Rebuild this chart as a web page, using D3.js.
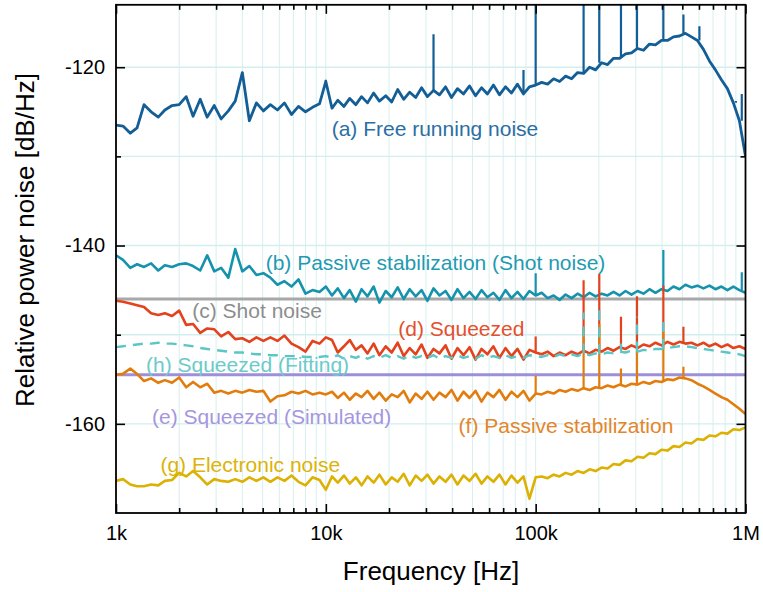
<!DOCTYPE html>
<html>
<head>
<meta charset="utf-8">
<script src="https://cdn.jsdelivr.net/npm/d3@7"></script>
<style>
  body { margin: 0; background: #fff; }
  text { font-family: "Liberation Sans", Arial, sans-serif; }
</style>
</head>
<body>
<svg width="763" height="592"></svg>
<script>
// frequency grid (Hz), shared by all measured traces
var freqHz = [
  1000,1080,1170,1260,1360,1470,1590,1710,1850,2000,
  2160,2330,2520,2720,2940,3170,3430,3700,4000,4320,
  4670,5040,5440,5880,6350,6860,7410,8000,8640,9330,
  10000,10700,11400,12200,13000,13900,14800,15800,16900,18000,
  19300,20600,22000,23500,25100,26800,28600,30500,32600,34800,
  37200,39700,42400,45300,48400,51700,55200,58900,62900,67200,
  71800,76700,81900,87500,93400,100000,106800,114000,121800,130000,
  138900,148300,158400,169200,180700,193000,206100,220100,235000,251000,
  268100,286300,305800,326500,348700,372400,397700,424800,453600,484500,
  517400,552600,590200,630300,673100,718900,767700,819900,875600,935200,
  1000000
];

// (a) free running noise
var freeRunning = [
  -126.5,-126.6,-127.4,-126.8,-124.2,-125.0,-125.6,-124.8,-124.3,-124.2,
  -123.3,-125.5,-123.6,-125.6,-124.3,-125.8,-124.9,-123.8,-120.6,-126.0,
  -124.0,-124.9,-124.2,-124.8,-124.0,-125.3,-124.4,-125.0,-124.5,-124.1,
  -121.6,-124.6,-123.7,-124.4,-123.5,-124.2,-123.3,-124.0,-122.9,-123.8,
  -123.2,-123.9,-122.5,-123.6,-122.8,-123.4,-122.3,-123.3,-122.6,-123.1,
  -122.2,-123.4,-122.4,-123.0,-122.1,-123.2,-122.3,-123.0,-122.0,-123.1,
  -122.2,-122.9,-121.9,-123.0,-122.2,-122.0,-121.7,-121.9,-121.3,-121.6,
  -121.0,-121.3,-120.6,-120.7,-120.0,-120.3,-119.5,-119.7,-119.0,-119.0,
  -118.5,-118.4,-117.9,-118.1,-117.4,-117.5,-117.0,-117.0,-116.6,-116.5,
  -116.2,-116.6,-117.0,-118.0,-119.3,-120.3,-121.4,-122.4,-124.0,-126.0,
  -130.0
];

// (b) passive stabilization (shot noise)
var passiveShot = [
  -141.1,-141.6,-142.5,-142.1,-142.4,-142.0,-142.8,-142.2,-142.4,-142.1,
  -142.0,-142.3,-142.8,-141.1,-142.9,-142.5,-143.6,-140.4,-142.9,-142.3,
  -143.3,-143.1,-143.6,-144.4,-144.0,-144.6,-143.8,-145.4,-145.0,-145.2,
  -144.6,-145.6,-144.8,-145.9,-145.0,-146.3,-144.9,-145.7,-144.6,-146.4,
  -145.1,-145.8,-144.7,-146.0,-144.9,-145.7,-145.0,-146.2,-144.8,-145.6,
  -145.1,-146.1,-144.9,-145.9,-145.2,-146.0,-145.0,-145.8,-145.3,-146.1,
  -145.0,-145.9,-145.2,-146.0,-145.1,-145.6,-145.3,-145.9,-145.6,-146.1,
  -145.5,-145.9,-145.4,-145.8,-145.3,-145.7,-145.4,-145.6,-145.2,-145.6,
  -145.1,-145.5,-145.1,-145.4,-144.9,-145.3,-144.9,-145.1,-144.6,-144.9,
  -144.4,-144.7,-144.5,-144.8,-144.5,-144.9,-144.6,-145.0,-144.6,-145.0,
  -145.3
];

// (c) shot noise and (e) simulated squeezing: flat levels
var shotNoiseLevel = -146.0;
var squeezedSimLevel = -154.5;

// (d) squeezed
var squeezed = [
  -146.2,-146.3,-146.5,-146.7,-146.9,-147.6,-147.8,-147.6,-147.9,-147.3,
  -148.9,-148.8,-149.8,-149.3,-149.4,-150.2,-149.7,-150.5,-150.4,-150.8,
  -150.3,-150.7,-150.3,-150.7,-150.1,-151.0,-151.4,-151.9,-150.7,-151.0,
  -150.3,-150.6,-152.0,-151.3,-150.6,-151.7,-151.2,-152.1,-151.0,-152.3,
  -151.3,-152.0,-150.9,-152.4,-151.5,-152.2,-151.1,-152.6,-151.6,-152.1,
  -151.2,-152.7,-151.5,-152.3,-151.4,-152.8,-151.6,-152.2,-151.3,-152.6,
  -151.5,-152.4,-151.6,-152.8,-151.7,-152.0,-152.2,-151.9,-152.4,-152.0,
  -152.3,-151.9,-152.2,-151.8,-152.1,-151.7,-151.9,-151.5,-151.8,-151.4,
  -151.6,-151.2,-151.5,-151.1,-151.3,-150.9,-151.2,-150.8,-151.1,-150.8,
  -151.0,-150.9,-151.2,-150.9,-151.3,-151.0,-151.4,-151.1,-151.5,-151.3,
  -151.6
];

// (h) squeezed (fitting)
var squeezedFit = [
  -151.4,-151.3,-151.2,-151.1,-151.0,-151.0,-150.9,-151.0,-151.0,-151.1,
  -151.2,-151.3,-151.5,-151.6,-151.7,-151.8,-151.9,-152.0,-152.0,-152.1,
  -152.2,-152.2,-152.3,-152.3,-152.4,-152.4,-152.4,-152.5,-152.5,-152.5,
  -152.4,-152.6,-152.3,-152.7,-152.4,-152.6,-152.3,-152.7,-152.4,-152.6,
  -152.3,-152.6,-152.4,-152.7,-152.3,-152.6,-152.4,-152.6,-152.3,-152.7,
  -152.4,-152.6,-152.3,-152.6,-152.4,-152.7,-152.3,-152.6,-152.4,-152.6,
  -152.3,-152.6,-152.4,-152.6,-152.3,-152.4,-152.5,-152.3,-152.5,-152.2,
  -152.4,-152.2,-152.4,-152.1,-152.3,-152.1,-152.2,-152.0,-152.1,-151.9,
  -152.0,-151.8,-151.9,-151.7,-151.8,-151.6,-151.6,-151.5,-151.4,-151.3,
  -151.3,-151.4,-151.5,-151.6,-151.7,-151.8,-151.9,-152.0,-152.1,-152.2,
  -152.4
];

// (f) passive stabilization
var passiveStab = [
  -154.5,-154.4,-153.8,-154.4,-155.2,-154.9,-155.4,-155.1,-155.4,-154.8,
  -155.9,-155.3,-155.9,-155.5,-156.5,-156.3,-156.6,-156.3,-156.5,-156.2,
  -156.4,-156.3,-157.5,-156.9,-156.8,-156.4,-156.6,-156.3,-156.7,-156.5,
  -156.7,-156.4,-157.1,-156.5,-157.3,-156.6,-157.0,-156.3,-157.2,-156.5,
  -157.4,-156.7,-157.0,-156.3,-157.6,-156.6,-157.2,-156.4,-157.3,-156.5,
  -157.0,-156.2,-157.4,-156.4,-157.1,-156.3,-157.5,-156.5,-157.0,-156.2,
  -157.3,-156.4,-157.0,-156.3,-157.4,-156.6,-156.7,-156.4,-156.6,-156.2,
  -156.4,-156.1,-156.3,-156.0,-156.2,-155.9,-156.0,-155.7,-155.9,-155.6,
  -155.8,-155.5,-155.6,-155.3,-155.5,-155.2,-155.3,-155.0,-155.1,-154.8,
  -154.9,-155.1,-155.5,-155.8,-156.2,-156.6,-157.0,-157.3,-157.8,-158.3,
  -158.9
];

// (g) electronic noise
var electronic = [
  -166.4,-166.2,-166.8,-167.0,-167.0,-166.8,-166.9,-166.4,-166.3,-165.5,
  -165.9,-165.3,-166.0,-166.8,-166.2,-166.4,-166.5,-166.2,-166.5,-166.0,
  -166.4,-166.0,-166.5,-166.0,-166.4,-165.8,-166.5,-166.9,-166.0,-166.3,
  -167.4,-165.9,-166.6,-165.8,-166.7,-166.0,-166.9,-165.9,-166.6,-165.7,
  -166.8,-166.0,-166.5,-165.6,-166.9,-165.8,-166.4,-165.7,-166.7,-165.9,
  -166.5,-165.7,-166.8,-165.8,-166.4,-165.6,-166.7,-165.9,-166.5,-165.7,
  -166.8,-165.8,-166.6,-165.9,-168.4,-166.0,-165.9,-166.1,-165.7,-165.9,
  -165.5,-165.7,-165.3,-165.5,-165.1,-165.3,-164.9,-165.0,-164.5,-164.6,
  -164.1,-164.2,-163.7,-163.8,-163.3,-163.4,-162.9,-163.0,-162.5,-162.6,
  -162.1,-162.2,-161.7,-161.8,-161.3,-161.4,-161.0,-161.1,-160.6,-160.7,
  -160.4
];

// narrow peaks: [frequency Hz, peak value]
var spikesA = [[10000,-121.4],[32600,-116.3],[87500,-120.3],[100000,-112],[169200,-112],[201000,-112],
               [255000,-112],[304000,-112],[406000,-112],[506000,-114.1],[603000,-115.4],
               [900000,-123.8],[960000,-123.0]];
var spikesB = [[100000,-143.1],[406000,-140.5],[960000,-143.0]];
var spikesD = [[100000,-150.2],[169200,-143.9],[201000,-143.2],[255000,-148.0],[304000,-145.7],
               [406000,-144.5],[506000,-149.1]];
var spikesF = [[100000,-154.6],[169200,-149.2],[201000,-148.8],[255000,-153.8],[304000,-151.8],
               [406000,-149.6],[506000,-153.6]];
var spikesH = [[169200,-147.5],[201000,-146.9],[255000,-151.0],[304000,-148.0],[406000,-148.0]];

var xMajor = [1e3, 1e4, 1e5, 1e6];
var xTickLabels = ["1k", "10k", "100k", "1M"];
var yMajor = [-120, -140, -160];
var yMinor = [-130, -150];

(function() {
var svg = d3.select("svg");
var pL = 116, pR = 745.5, pT = 4.8, pB = 513;

var x = d3.scaleLog().domain([1e3, 1e6]).range([pL, pR]);
var y = d3.scaleLinear().domain([-170, -113]).range([pB, pT]);

svg.append("defs").append("clipPath").attr("id", "plotclip")
  .append("rect").attr("x", pL).attr("y", pT)
  .attr("width", pR - pL).attr("height", pB - pT);

// grid
var grid = svg.append("g");
var gridX = x.ticks().filter(function(d) { return d > 1e3 && d < 1e6; });
var minorX = gridX.filter(function(d) { return xMajor.indexOf(d) < 0; });
grid.selectAll("line.gx").data(gridX).enter().append("line")
  .attr("x1", function(d) { return x(d); }).attr("x2", function(d) { return x(d); })
  .attr("y1", pT).attr("y2", pB)
  .attr("stroke", "#d6efef").attr("stroke-width", 1);
grid.selectAll("line.gy").data(yMajor.concat(yMinor)).enter().append("line")
  .attr("x1", pL).attr("x2", pR)
  .attr("y1", function(d) { return y(d); }).attr("y2", function(d) { return y(d); })
  .attr("stroke", "#d3eeee").attr("stroke-width", 1.4);

var plot = svg.append("g").attr("clip-path", "url(#plotclip)");

var line = d3.line()
  .x(function(d) { return x(d[0]); })
  .y(function(d) { return y(d[1]); });

function pairs(vals) {
  return freqHz.map(function(f, i) { return [f, vals[i]]; });
}

function drawTrace(vals, color, w, dash) {
  var p = plot.append("path")
    .datum(pairs(vals))
    .attr("fill", "none")
    .attr("stroke", color)
    .attr("stroke-width", w)
    .attr("stroke-linejoin", "round")
    .attr("d", line);
  if (dash) p.attr("stroke-dasharray", dash);
}

function drawSpikes(spikes, vals, color, w, dash) {
  spikes.forEach(function(s) {
    var i = d3.leastIndex(freqHz, function(f) { return Math.abs(Math.log(f / s[0])); });
    var p = plot.append("path")
      .datum([[s[0], vals[i]], [s[0], s[1]]])
      .attr("fill", "none")
      .attr("stroke", color)
      .attr("stroke-width", w)
      .attr("d", line);
    if (dash) p.attr("stroke-dasharray", dash);
  });
}

function drawLevel(level, color, w) {
  plot.append("path")
    .datum([[1e3, level], [1e6, level]])
    .attr("fill", "none")
    .attr("stroke", color)
    .attr("stroke-width", w)
    .attr("d", line);
}

drawLevel(shotNoiseLevel, "#a8a8a8", 3);
drawTrace(passiveShot, "#1593ad", 2.6);
drawSpikes(spikesB, passiveShot, "#1593ad", 2.2);
drawTrace(freeRunning, "#135e96", 2.8);
drawSpikes(spikesA, freeRunning, "#135e96", 2.2);
drawLevel(squeezedSimLevel, "#9d8fd9", 3);
drawTrace(squeezed, "#e3421c", 2.6);
drawSpikes(spikesD, squeezed, "#e3421c", 2.2);
drawTrace(passiveStab, "#e27d0d", 2.6);
drawSpikes(spikesF, passiveStab, "#e27d0d", 2.2);
drawTrace(squeezedFit, "#5cc6c6", 2.4, "10,7");
drawSpikes(spikesH, squeezedFit, "#5cc6c6", 2.2, "10,7");
drawTrace(electronic, "#dcb102", 2.6);

// curve labels
var labels = [
  ["(a) Free running noise", 331.7, 136, "#2a6ea4"],
  ["(b) Passive stabilization (Shot noise)", 265.7, 270, "#1f9ab2"],
  ["(c) Shot noise", 192.3, 317.5, "#8d8d8d"],
  ["(d) Squeezed", 398.3, 336, "#e5502c"],
  ["(h) Squeezed (Fitting)", 146, 372, "#6ccaca"],
  ["(e) Squeezed (Simulated)", 152, 423.5, "#a596de"],
  ["(f) Passive stabilization", 458.6, 432.5, "#e4852a"],
  ["(g) Electronic noise", 160.4, 471.5, "#dcb306"]
];
svg.append("g").selectAll("text").data(labels).enter().append("text")
  .attr("x", function(d) { return d[1]; })
  .attr("y", function(d) { return d[2]; })
  .attr("fill", function(d) { return d[3]; })
  .attr("font-size", 21)
  .text(function(d) { return d[0]; });

// axes: ticks point inward on all four sides
function styleAxis(g) {
  g.select(".domain").remove();
  g.selectAll("line").attr("stroke", "#000").attr("stroke-width", 1.6);
  g.selectAll("text").attr("font-size", 20).attr("fill", "#000")
    .style("font-family", "'Liberation Sans', Arial, sans-serif");
}

svg.append("g").attr("transform", "translate(0," + pB + ")")
  .call(d3.axisBottom(x).tickValues(xMajor).tickSize(-9).tickPadding(13)
    .tickFormat(function(d, i) { return xTickLabels[i]; }))
  .call(styleAxis);
svg.append("g").attr("transform", "translate(0," + pB + ")")
  .call(d3.axisBottom(x).tickValues(minorX).tickSize(-5).tickFormat(""))
  .call(styleAxis);
svg.append("g").attr("transform", "translate(0," + pT + ")")
  .call(d3.axisTop(x).tickValues(xMajor).tickSize(-9).tickFormat(""))
  .call(styleAxis);
svg.append("g").attr("transform", "translate(0," + pT + ")")
  .call(d3.axisTop(x).tickValues(minorX).tickSize(-5).tickFormat(""))
  .call(styleAxis);

svg.append("g").attr("transform", "translate(" + pL + ",0)")
  .call(d3.axisLeft(y).tickValues(yMajor).tickSize(-9).tickPadding(11)
    .tickFormat(function(d) { return String(d); }))
  .call(styleAxis);
svg.append("g").attr("transform", "translate(" + pL + ",0)")
  .call(d3.axisLeft(y).tickValues(yMinor).tickSize(-5).tickFormat(""))
  .call(styleAxis);
svg.append("g").attr("transform", "translate(" + pR + ",0)")
  .call(d3.axisRight(y).tickValues(yMajor).tickSize(-9).tickFormat(""))
  .call(styleAxis);
svg.append("g").attr("transform", "translate(" + pR + ",0)")
  .call(d3.axisRight(y).tickValues(yMinor).tickSize(-5).tickFormat(""))
  .call(styleAxis);

// frame
svg.append("rect")
  .attr("x", pL).attr("y", pT)
  .attr("width", pR - pL).attr("height", pB - pT)
  .attr("fill", "none").attr("stroke", "#000").attr("stroke-width", 1.8);

// axis titles
svg.append("text")
  .attr("x", 431).attr("y", 580)
  .attr("text-anchor", "middle").attr("font-size", 26).attr("fill", "#000")
  .text("Frequency [Hz]");
svg.append("text")
  .attr("transform", "translate(33.5,240) rotate(-90)")
  .attr("text-anchor", "middle").attr("font-size", 26).attr("fill", "#000")
  .text("Relative power noise [dB/Hz]");
})();
</script>
</body>
</html>
